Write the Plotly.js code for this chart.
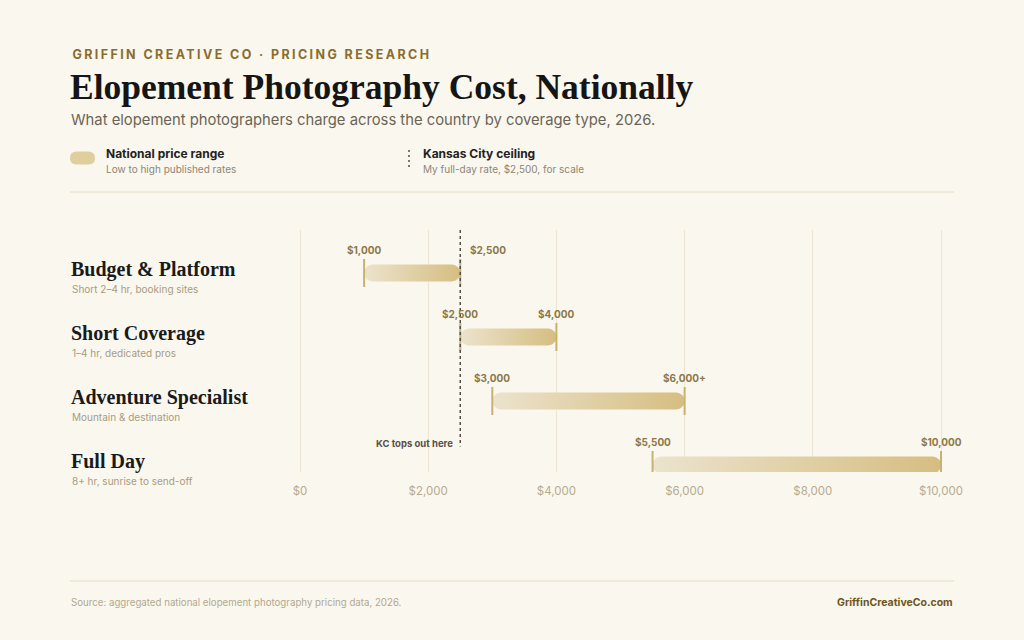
<!DOCTYPE html>
<html>
<head>
<meta charset="utf-8">
<script src="https://cdn.plot.ly/plotly-3.0.1.min.js"></script>
<style>
  html, body { margin: 0; padding: 0; background: #faf7ef; }
  #chart { width: 1024px; height: 640px; }
  .annotation[data-index="0"] text { letter-spacing: 2.4px; }
</style>
</head>
<body>
<div id="chart"></div>
<script>
// ---- DATA ----
const categories = ['Budget & Platform', 'Short Coverage', 'Adventure Specialist', 'Full Day'];
const categoryNotes = ['Short 2–4 hr, booking sites', '1–4 hr, dedicated pros', 'Mountain & destination', '8+ hr, sunrise to send-off'];
const lowPrices = [1000, 2500, 3000, 5500];
const highPrices = [2500, 4000, 6000, 10000];
const lowLabels = ['$1,000', '$2,500', '$3,000', '$5,500'];
const highLabels = ['$2,500', '$4,000', '$6,000+', '$10,000'];
const kcCeiling = 2500;
const tickVals = [0, 2000, 4000, 6000, 8000, 10000];
const tickText = ['$0', '$2,000', '$4,000', '$6,000', '$8,000', '$10,000'];

// ---- GEOMETRY / STYLE ----
const W = 1024, H = 640;
const M = { l: 297, r: 80, t: 230, b: 168 };
const plotW = W - M.l - M.r, plotH = H - M.t - M.b;
const xRange = [-46.8, 10046.8];
const yRange = [-0.109, 3.672];
const pxPerX = plotW / (xRange[1] - xRange[0]);
const pxPerY = plotH / (yRange[1] - yRange[0]);
const paperX = px => (px - M.l) / plotW;
const paperY = py => (H - M.b - py) / plotH;

const SANS = 'Inter, "Noto Sans", "DejaVu Sans", sans-serif';
const SERIF = '"Liberation Serif", "DejaVu Serif", serif';
const GOLD_CAP = '#c9b074';
const LABEL_GOLD = '#8c7847';
const barHalfPx = 8.5;
const kickerSpacing = 2.4;
const kickerText = 'GRIFFIN CREATIVE CO · PRICING RESEARCH';

const rowY = categories.map((c, i) => categories.length - 1 - i);

function pillPath(lo, hi, yc) {
  const rx = barHalfPx / pxPerX, ry = barHalfPx / pxPerY;
  const xs = [], ys = [];
  const n = 16;
  for (let k = 0; k <= n; k++) {
    const t = -Math.PI / 2 + Math.PI * k / n;
    xs.push(hi - rx + rx * Math.cos(t)); ys.push(yc + ry * Math.sin(t));
  }
  for (let k = 0; k <= n; k++) {
    const t = Math.PI / 2 + Math.PI * k / n;
    xs.push(lo + rx + rx * Math.cos(t)); ys.push(yc + ry * Math.sin(t));
  }
  xs.push(xs[0]); ys.push(ys[0]);
  return { xs, ys };
}

const traces = [];
categories.forEach((c, i) => {
  const p = pillPath(lowPrices[i], highPrices[i], rowY[i]);
  traces.push({
    type: 'scatter', mode: 'lines', x: p.xs, y: p.ys,
    fill: 'toself', fillcolor: '#dfd0a4',
    fillgradient: { type: 'horizontal', colorscale: [[0, '#ebe3cd'], [1, '#d6be81']] },
    line: { width: 0, color: 'rgba(0,0,0,0)' },
    hoverinfo: 'skip', showlegend: false
  });
  const capH = 14 / pxPerY;
  [lowPrices[i], highPrices[i]].forEach(v => {
    traces.push({
      type: 'scatter', mode: 'lines',
      x: [v, v], y: [rowY[i] - capH, rowY[i] + capH],
      line: { color: GOLD_CAP, width: 2 },
      hoverinfo: 'skip', showlegend: false
    });
  });
});
traces.push({
  type: 'scatter', mode: 'lines',
  x: [kcCeiling, kcCeiling], y: [yRange[1], 0.29],
  line: { color: '#555049', width: 1.5, dash: '3px,3px' },
  hoverinfo: 'skip', showlegend: false
});

const annotations = [];
const addText = (text, px, py, opts) => annotations.push(Object.assign({
  text, x: paperX(px), y: paperY(py), xref: 'paper', yref: 'paper',
  xanchor: 'left', yanchor: 'middle', showarrow: false
}, opts));

// letter-spaced kicker: Plotly centres the un-spaced width, so shift by half the extra spacing
addText('<b>' + kickerText + '</b>', 70, 54, {
  xshift: kickerSpacing * kickerText.length / 2,
  font: { family: SANS, size: 12.5, color: '#8a6d2c' }
});
addText('<b>Elopement Photography Cost, Nationally</b>', 68, 87, { font: { family: SERIF, size: 35.5, color: '#151515' } });
addText('What elopement photographers charge across the country by coverage type, 2026.', 69, 120, { font: { family: SANS, size: 14.8, color: '#6b6456' } });
addText('<b>National price range</b>', 104, 153, { font: { family: SANS, size: 12, color: '#222222' } });
addText('Low to high published rates', 104, 169, { font: { family: SANS, size: 10, color: '#8e8676' } });
addText('<b>Kansas City ceiling</b>', 421, 153, { font: { family: SANS, size: 12, color: '#222222' } });
addText('My full-day rate, $2,500, for scale', 421, 169, { font: { family: SANS, size: 10, color: '#8e8676' } });
addText('Source: aggregated national elopement photography pricing data, 2026.', 69, 602, { font: { family: SANS, size: 9.7, color: '#b3a88e' } });
addText('<b>GriffinCreativeCo.com</b>', 955, 602, { xanchor: 'right', font: { family: SANS, size: 10.5, color: '#6e5520' } });

categories.forEach((c, i) => {
  annotations.push({
    text: '<b>' + c.replace('&', '&amp;') + '</b>', xref: 'paper', yref: 'y', x: paperX(69), y: rowY[i], yshift: 4,
    xanchor: 'left', yanchor: 'middle', showarrow: false,
    font: { family: SERIF, size: 20, color: '#1a1a1a' }
  });
  annotations.push({
    text: categoryNotes[i].replace('&', '&amp;'), xref: 'paper', yref: 'y', x: paperX(70), y: rowY[i], yshift: -16,
    xanchor: 'left', yanchor: 'middle', showarrow: false,
    font: { family: SANS, size: 10, color: '#a89c80' }
  });
  annotations.push({
    text: '<b>' + lowLabels[i] + '</b>', xref: 'x', yref: 'y', x: lowPrices[i], y: rowY[i], yshift: 23,
    xanchor: 'center', yanchor: 'middle', showarrow: false,
    font: { family: SANS, size: 10, color: LABEL_GOLD }
  });
  const shiftHi = highPrices[i] === kcCeiling ? 28 : 0;
  annotations.push({
    text: '<b>' + highLabels[i] + '</b>', xref: 'x', yref: 'y', x: highPrices[i], y: rowY[i], yshift: 23, xshift: shiftHi,
    xanchor: 'center', yanchor: 'middle', showarrow: false,
    font: { family: SANS, size: 10, color: LABEL_GOLD }
  });
});
annotations.push({
  text: '<b>KC tops out here</b>', xref: 'x', yref: 'y', x: kcCeiling, y: 0.33, xshift: -5,
  xanchor: 'right', yanchor: 'middle', showarrow: false,
  font: { family: SANS, size: 9.5, color: '#55504a' }
});

const shapes = [
  { type: 'line', xref: 'paper', yref: 'paper', x0: paperX(70), x1: paperX(954), y0: paperY(192), y1: paperY(192), line: { color: '#e6dcc5', width: 1 } },
  { type: 'line', xref: 'paper', yref: 'paper', x0: paperX(70), x1: paperX(954), y0: paperY(581), y1: paperY(581), line: { color: '#e6dcc5', width: 1 } },
  { type: 'line', xref: 'paper', yref: 'paper', x0: paperX(409), x1: paperX(409), y0: paperY(150), y1: paperY(167), line: { color: '#555049', width: 1.5, dash: '2px,3px' } },
  { type: 'path', xref: 'paper', yref: 'paper', xsizemode: 'pixel', ysizemode: 'pixel',
    xanchor: paperX(70), yanchor: paperY(158),
    path: 'M6.5,-6.5 L18.5,-6.5 Q25,-6.5 25,0 Q25,6.5 18.5,6.5 L6.5,6.5 Q0,6.5 0,0 Q0,-6.5 6.5,-6.5 Z',
    fillcolor: '#dfcf9f', line: { width: 0 } }
];

const layout = {
  width: W, height: H,
  margin: M,
  paper_bgcolor: '#faf7ef', plot_bgcolor: '#faf7ef',
  showlegend: false,
  xaxis: {
    range: xRange, tickvals: tickVals, ticktext: tickText,
    showgrid: true, gridcolor: '#ece5d3', gridwidth: 1, zeroline: false,
    showline: false, ticks: '', ticklabelstandoff: 10,
    tickfont: { family: SANS, size: 11.5, color: '#b7ab8f' }, fixedrange: true
  },
  yaxis: {
    range: yRange, showgrid: false, zeroline: false, showticklabels: false,
    showline: false, ticks: '', fixedrange: true
  },
  annotations, shapes,
  hovermode: false
};

Plotly.newPlot('chart', traces, layout, { displayModeBar: false, staticPlot: true });
</script>
</body>
</html>
